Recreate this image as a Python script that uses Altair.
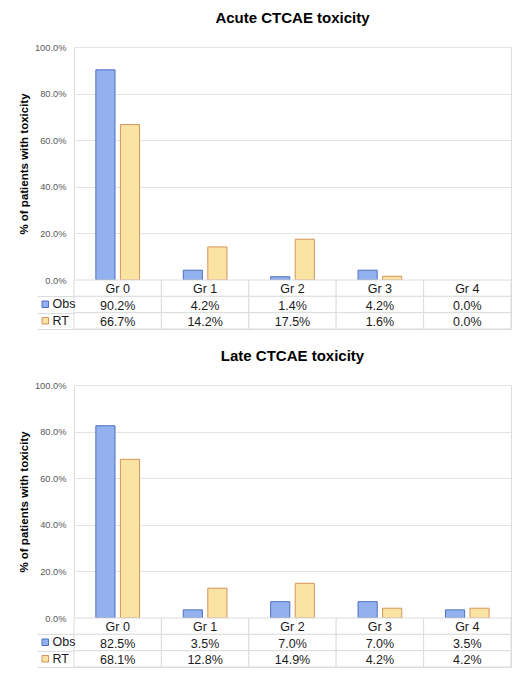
import altair as alt
import pandas as pd

grades = ["Gr 0", "Gr 1", "Gr 2", "Gr 3", "Gr 4"]
series = ["Obs", "RT"]
acute_obs = [90.2, 4.2, 1.4, 4.2, 0.0]
acute_rt = [66.7, 14.2, 17.5, 1.6, 0.0]
late_obs = [82.5, 3.5, 7.0, 7.0, 3.5]
late_rt = [68.1, 12.8, 14.9, 4.2, 4.2]
titles = ["Acute CTCAE toxicity", "Late CTCAE toxicity"]
y_ticks = [0.0, 0.2, 0.4, 0.6, 0.8, 1.0]
y_title = "% of patients with toxicity"

FONT = "Liberation Sans"
fills = ["#94b1ef", "#fbe3a3"]
strokes = ["#4e6ec0", "#d4955a"]
row_order = ["hdr", "Obs", "RT"]

W, H, TH = 437, 233, 49


def panel(title, obs, rt):
    rows = []
    for g, o, r in zip(grades, obs, rt):
        rows.append({"grade": g, "series": "Obs", "value": o / 100})
        rows.append({"grade": g, "series": "RT", "value": r / 100})
    df = pd.DataFrame(rows)

    bars = alt.Chart(df, title=alt.Title(title, fontSize=15, font=FONT, fontWeight="bold",
                                          color="#000000", anchor="middle", offset=17)).mark_bar(
        strokeWidth=1
    ).encode(
        x=alt.X("grade:N", sort=grades, axis=None,
                scale=alt.Scale(paddingInner=0.5, paddingOuter=0.25)),
        xOffset=alt.XOffset("series:N", sort=series, scale=alt.Scale(paddingInner=0.22)),
        y=alt.Y("value:Q", scale=alt.Scale(domain=[0, 1], nice=False),
                axis=alt.Axis(values=y_ticks, format=".1%", title=y_title,
                              titleFont=FONT, titleFontSize=11.5, titleFontWeight="bold",
                              titleColor="#000000", titlePadding=5,
                              labelFont=FONT, labelFontSize=9.3, labelColor="#595959",
                              labelPadding=8, ticks=False, domain=False,
                              grid=True, gridColor="#e4e4e4", gridWidth=1)),
        color=alt.Color("series:N", scale=alt.Scale(domain=series, range=fills), legend=None),
        stroke=alt.Stroke("series:N", scale=alt.Scale(domain=series, range=strokes), legend=None),
        strokeOpacity=alt.condition("datum.value > 0", alt.value(1), alt.value(0)),
    ).properties(width=W, height=H)

    trows = []
    for g, o, r in zip(grades, obs, rt):
        trows.append({"grade": g, "row": "hdr", "text": g})
        trows.append({"grade": g, "row": "Obs", "text": f"{o:.1f}%"})
        trows.append({"grade": g, "row": "RT", "text": f"{r:.1f}%"})
    tdf = pd.DataFrame(trows)

    base = alt.Chart(tdf).encode(
        x=alt.X("grade:N", sort=grades, axis=None,
                scale=alt.Scale(paddingInner=0, paddingOuter=0)),
        y=alt.Y("row:N", sort=row_order,
                scale=alt.Scale(domain=row_order, paddingInner=0, paddingOuter=0),
                axis=alt.Axis(title=None, labels=False, domain=False, values=["Obs", "RT"],
                              tickBand="extent", tickSize=37, tickColor="#dcdcdc",
                              tickWidth=1)),
    )
    cells = base.mark_rect(fill="white", stroke="#dcdcdc", strokeWidth=1)
    texts = base.mark_text(font=FONT, fontSize=12.5, color="#1a1a1a", baseline="middle",
                           dy=1).encode(text="text:N")
    leg = alt.Legend(orient="none", legendX=-35, legendY=18, title=None,
                     symbolType="square", symbolSize=42, symbolOpacity=1, symbolStrokeWidth=1,
                     labelFont=FONT, labelFontSize=12.5, labelColor="#1a1a1a",
                     labelOffset=1, rowPadding=3.5, padding=0)
    keys = base.transform_filter("datum.row != 'hdr'").transform_calculate(
        series="datum.row"
    ).mark_square(opacity=0, size=1).encode(
        color=alt.Color("series:N", scale=alt.Scale(domain=series, range=fills), legend=leg),
        stroke=alt.Stroke("series:N", scale=alt.Scale(domain=series, range=strokes), legend=leg),
    )
    table = alt.layer(cells, texts, keys).properties(width=W, height=TH)
    return alt.vconcat(bars, table, spacing=0, bounds="flush").resolve_scale(
        color="independent", stroke="independent"
    )


chart = alt.vconcat(
    panel(titles[0], acute_obs, acute_rt),
    panel(titles[1], late_obs, late_rt),
    spacing=18,
).resolve_scale(
    color="independent", stroke="independent"
).properties(
    padding={"left": 9, "top": 2, "right": 5, "bottom": 5}
).configure_view(stroke=None).configure(background="white")

chart.save("out.html", embed_options={"renderer": "svg", "actions": False})
